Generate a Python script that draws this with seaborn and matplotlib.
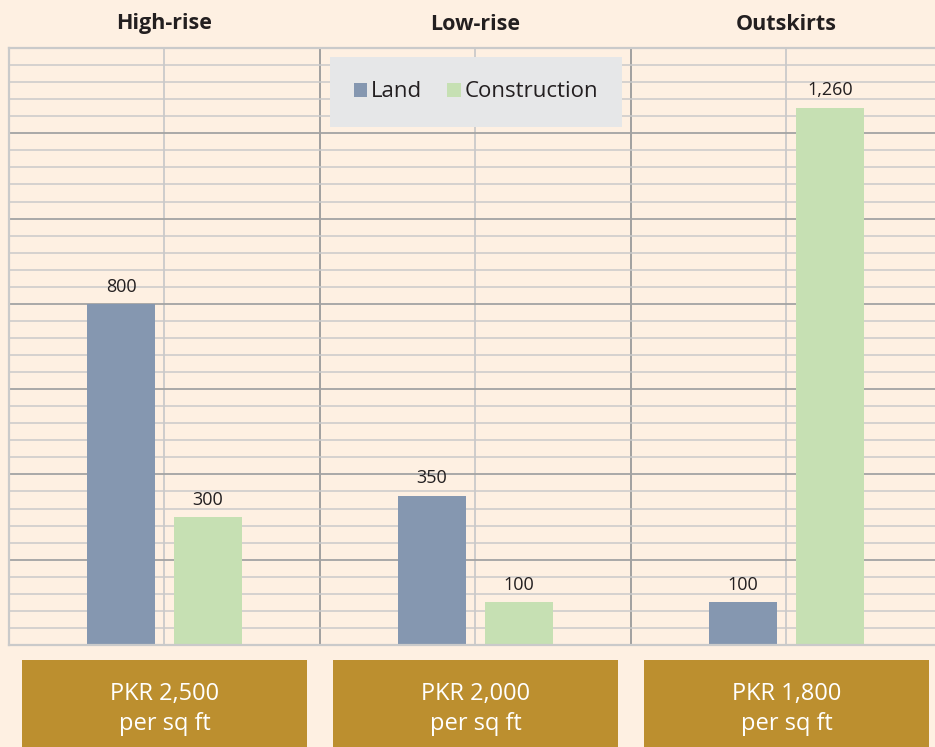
import matplotlib
matplotlib.use("Agg")
import matplotlib.pyplot as plt
import matplotlib.transforms as mtransforms
from matplotlib.patches import Rectangle, Patch
from matplotlib.ticker import MultipleLocator, FixedLocator
import pandas as pd
import seaborn as sns

# data
categories = ["High-rise", "Low-rise", "Outskirts"]
land = [800, 350, 100]
construction = [300, 100, 1260]
prices = ["PKR 2,500\nper sq ft", "PKR 2,000\nper sq ft", "PKR 1,800\nper sq ft"]
series = ["Land", "Construction"]
colors = ["#8597B0", "#C6E0B3"]

df = pd.DataFrame({
    "category": categories * 2,
    "component": ["Land"] * 3 + ["Construction"] * 3,
    "value": land + construction,
})

bg = "#FEF0E2"
sns.set_style("white")
plt.rcParams["font.family"] = ["Open Sans", "DejaVu Sans"]

fig = plt.figure(figsize=(9.35, 7.47), dpi=100, facecolor=bg)
W, H = 935, 747
ax = fig.add_axes([9 / W, (H - 645) / H, 933 / W, 597 / H], facecolor=bg)

sns.barplot(data=df, x="category", y="value", hue="component",
            hue_order=series, palette=colors, width=0.56, gap=0.21,
            saturation=1, linewidth=0, ax=ax, legend=False)

for cont in ax.containers:
    ax.bar_label(cont, labels=[f"{v:,.0f}" for v in cont.datavalues],
                 padding=6, fontsize=13, color="#231F20")

ax.set_xlim(-0.5, 2.5)
ax.set_ylim(0, 1400)
ax.yaxis.set_major_locator(MultipleLocator(200))
ax.yaxis.set_minor_locator(MultipleLocator(40))
ax.xaxis.set_major_locator(FixedLocator([0.5, 1.5]))
ax.xaxis.set_minor_locator(FixedLocator([0, 1, 2]))
ax.set_axisbelow(True)
ax.grid(axis="y", which="major", color="#A3A3A3", lw=1.3)
ax.grid(axis="y", which="minor", color="#CACACA", lw=1.1)
ax.grid(axis="x", which="major", color="#9A9A9A", lw=1.3)
ax.grid(axis="x", which="minor", color="#CACACA", lw=1.3)
ax.tick_params(which="both", length=0, labelbottom=False, labelleft=False)
ax.set_xlabel("")
ax.set_ylabel("")
for side, sp in ax.spines.items():
    sp.set_color("#CACACA")
    sp.set_linewidth(1.6)
ax.spines["right"].set_visible(False)

# group titles
trans = mtransforms.blended_transform_factory(ax.transData, ax.transAxes)
for i, cat in enumerate(categories):
    ax.text(i, 1 + 24 / 597, cat, transform=trans, ha="center", va="center",
            fontsize=15.5, fontweight="bold", color="#231F20")

# price boxes under each group
for i, p in enumerate(prices):
    ax.add_patch(Rectangle((i - 0.458, -0.175), 0.916, 0.15, transform=trans,
                           facecolor="#BC8F2F", edgecolor="none", clip_on=False))
    ax.text(i, -(709 - 645) / 597, p, transform=trans, ha="center", va="center",
            fontsize=17, color="white", linespacing=1.35)

handles = [Patch(facecolor=c, edgecolor="none") for c in colors]
leg = ax.legend(handles, series, ncol=2, loc="upper center",
                bbox_to_anchor=(0.5005, 0.985), borderaxespad=0,
                frameon=True, fancybox=False,
                facecolor="#E6E7E8", edgecolor="none", framealpha=1,
                fontsize=16, handlelength=0.6, handleheight=0.6,
                handletextpad=0.15, columnspacing=1.15, borderpad=1.1,
                labelcolor="#231F20")

fig.savefig("out.png", dpi=100, facecolor=bg)
